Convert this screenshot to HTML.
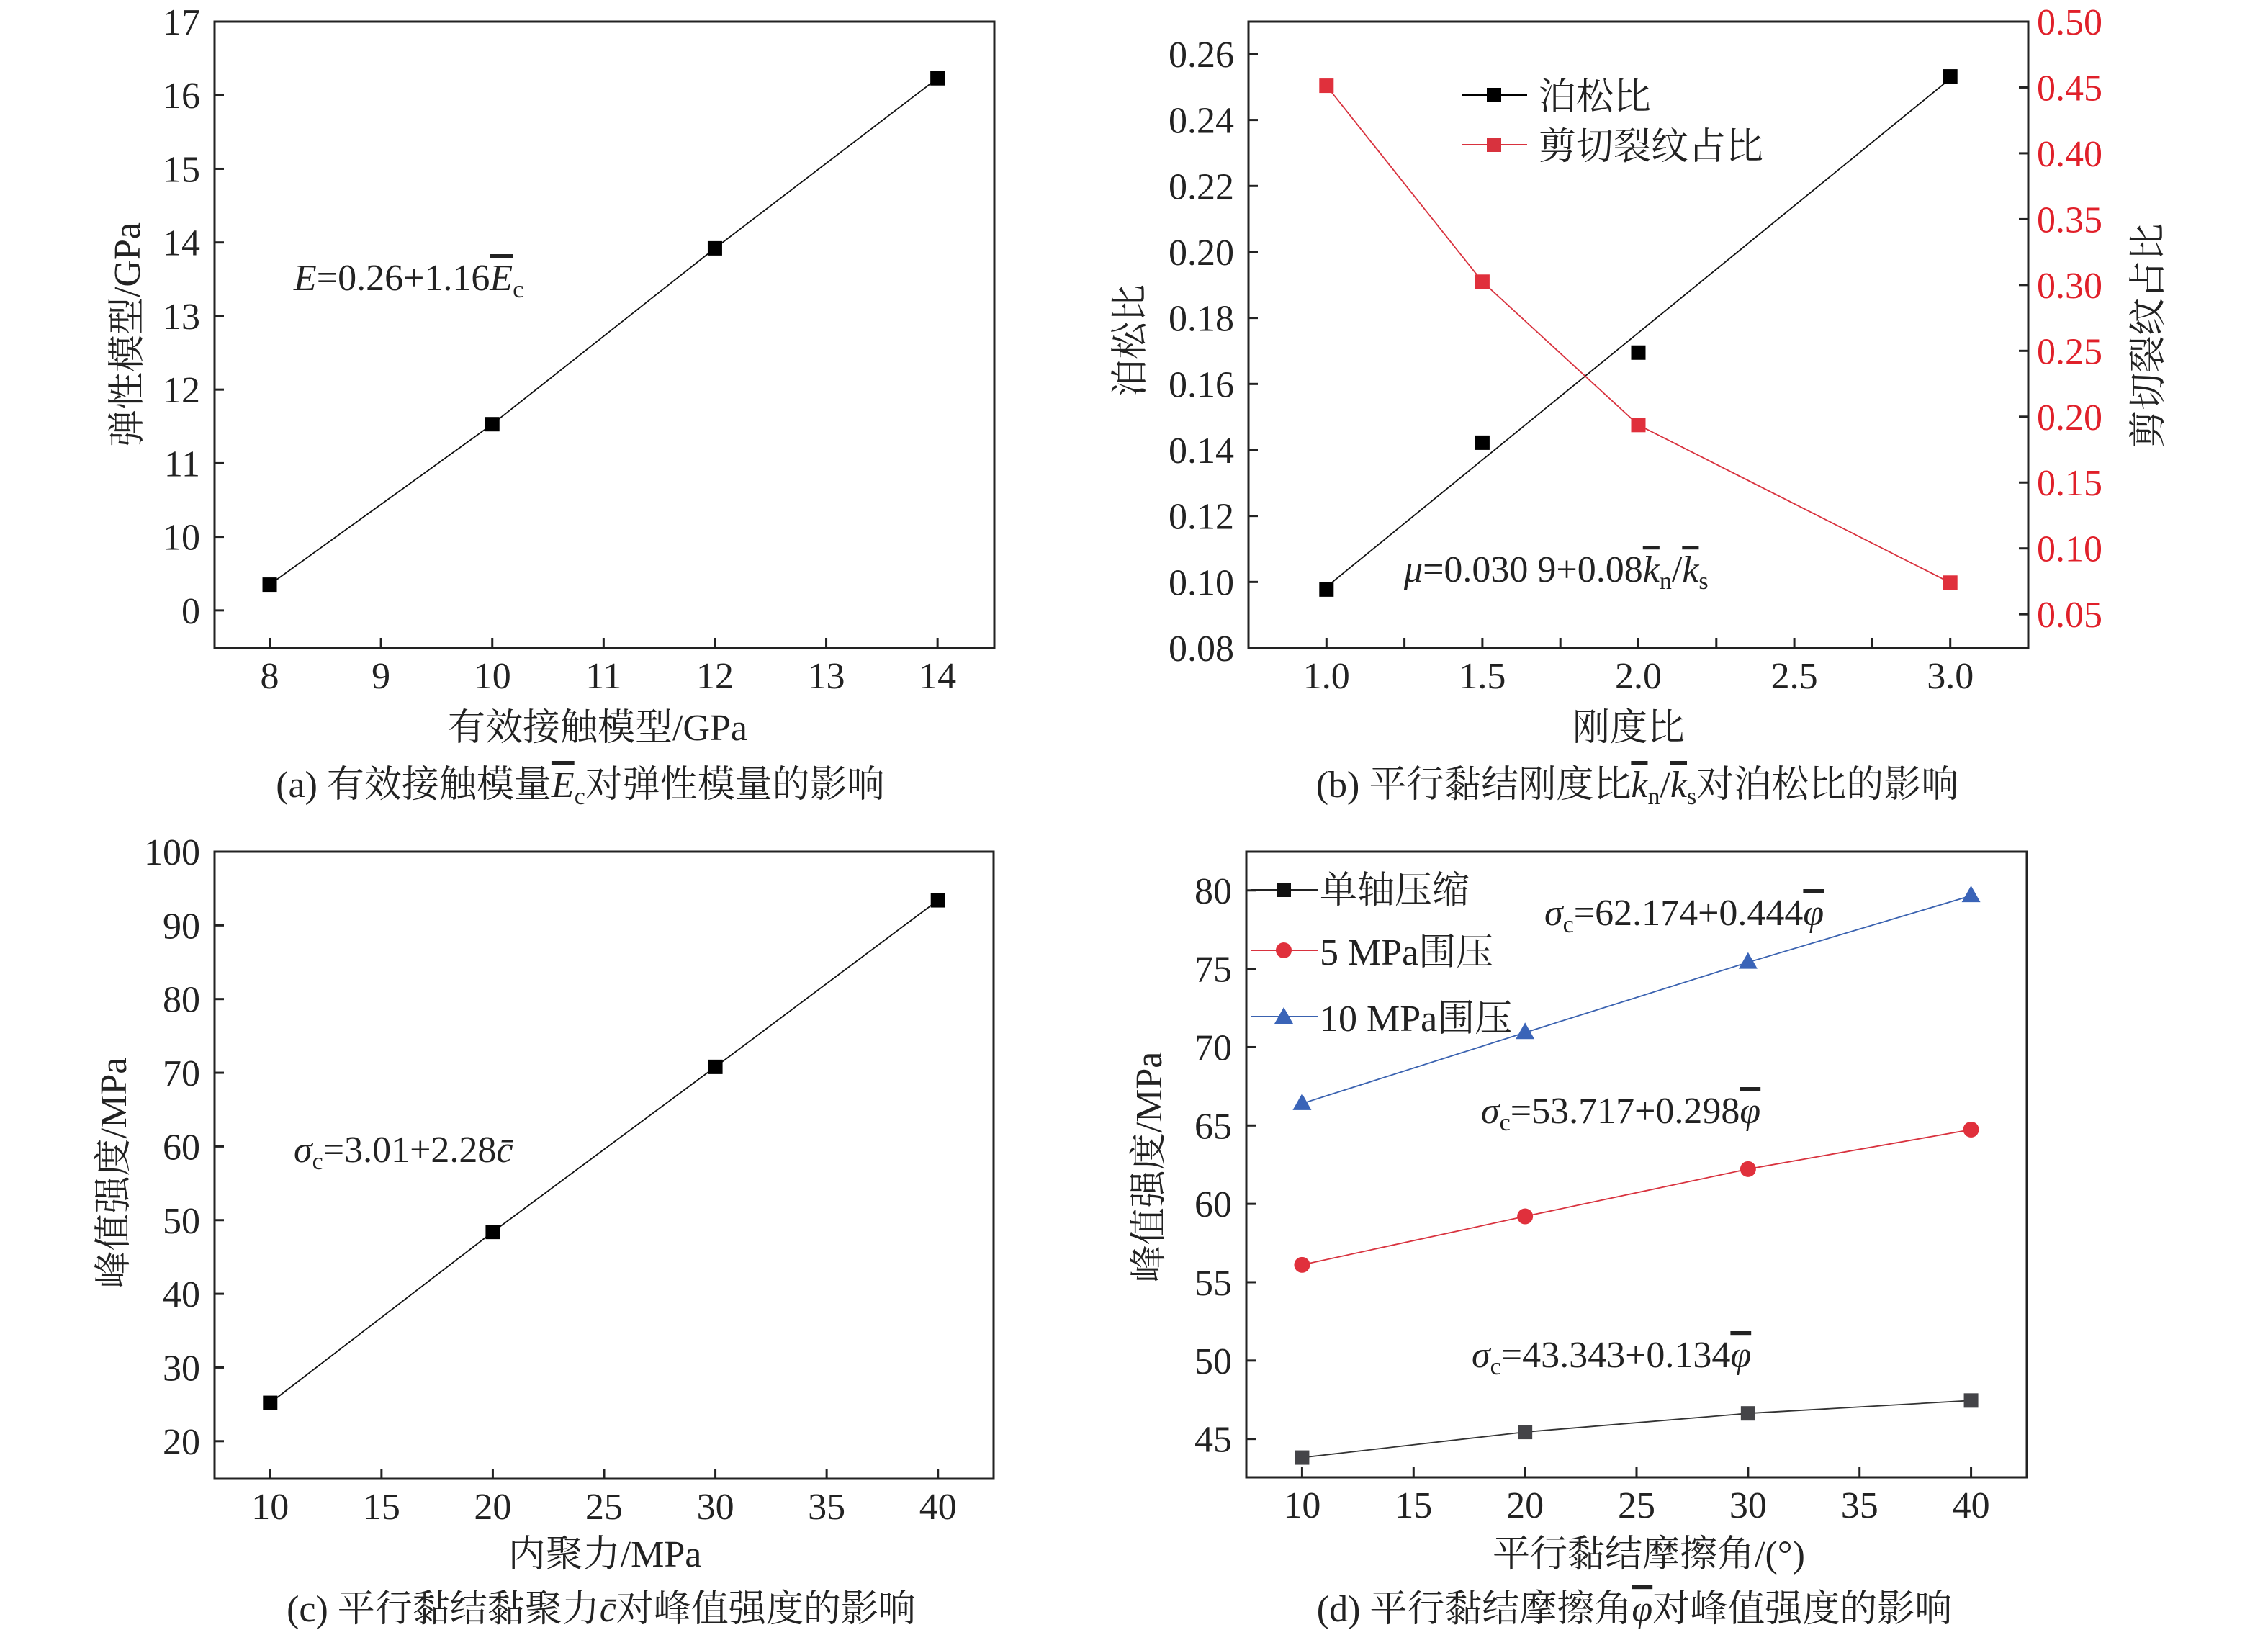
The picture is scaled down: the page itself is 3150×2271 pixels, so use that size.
<!DOCTYPE html>
<html><head><meta charset="utf-8">
<style>
html,body{margin:0;padding:0;background:#fff;}
svg{display:block;}
text{font-family:"Liberation Serif","Noto Serif CJK SC",serif;fill:#222;}
.ob{text-decoration:overline;font-style:italic;}
</style></head>
<body>
<svg id="fig" width="3150" height="2271" viewBox="0 0 3150 2271" xmlns="http://www.w3.org/2000/svg">
<rect x="0" y="0" width="3150" height="2271" fill="#fff"/>
<g id="layer"></g>

<text x="182" y="465" font-size="52" text-anchor="middle" transform="rotate(-90 182 465)" dominant-baseline="middle">弹性模型/GPa</text>
<text x="830" y="1028" font-size="52" text-anchor="middle">有效接触模型/GPa</text>
<text x="806" y="1107" font-size="52" text-anchor="middle">(a) 有效接触模量<tspan class="ob">E</tspan><tspan font-size="34" dy="10">c</tspan><tspan dy="-10">对弹性模量的影响</tspan></text>
<text x="408" y="403" font-size="52"><tspan font-style="italic">E</tspan>=0.26+1.16<tspan class="ob">E</tspan><tspan font-size="34" dy="10">c</tspan></text>

<text x="1575" y="473" font-size="52" text-anchor="middle" transform="rotate(-90 1575 473)" dominant-baseline="middle">泊松比</text>
<text x="2989" y="466" font-size="52" text-anchor="middle" transform="rotate(-90 2989 466)" dominant-baseline="middle">剪切裂纹占比</text>
<text x="2262" y="1028" font-size="52" text-anchor="middle">刚度比</text>
<text x="2274" y="1107" font-size="52" text-anchor="middle">(b) 平行黏结刚度比<tspan class="ob">k</tspan><tspan font-size="34" dy="10">n</tspan><tspan dy="-10">/</tspan><tspan class="ob">k</tspan><tspan font-size="34" dy="10">s</tspan><tspan dy="-10">对泊松比的影响</tspan></text>
<text x="1950" y="808" font-size="52"><tspan font-style="italic">μ</tspan>=0.030 9+0.08<tspan class="ob">k</tspan><tspan font-size="34" dy="10">n</tspan><tspan dy="-10">/</tspan><tspan class="ob">k</tspan><tspan font-size="34" dy="10">s</tspan></text>
<g>
<line x1="2030" y1="132" x2="2121" y2="132" stroke="#000" stroke-width="2"/>
<rect x="2065" y="122" width="20" height="20" fill="#000"/>
<text x="2137" y="152" font-size="52">泊松比</text>
<line x1="2030" y1="201" x2="2121" y2="201" stroke="#d8323e" stroke-width="2"/>
<rect x="2065" y="191" width="20" height="20" fill="#d8323e"/>
<text x="2137" y="221" font-size="52">剪切裂纹占比</text>
</g>

<text x="163" y="1629" font-size="52" text-anchor="middle" transform="rotate(-90 163 1629)" dominant-baseline="middle">峰值强度/MPa</text>
<text x="840" y="2176" font-size="52" text-anchor="middle">内聚力/MPa</text>
<text x="835" y="2252" font-size="52" text-anchor="middle">(c) 平行黏结黏聚力<tspan font-style="italic">c̄</tspan>对峰值强度的影响</text>
<text x="408" y="1614" font-size="52"><tspan font-style="italic">σ</tspan><tspan font-size="34" dy="10">c</tspan><tspan dy="-10">=3.01+2.28</tspan><tspan font-style="italic">c̄</tspan></text>

<text x="1601" y="1621" font-size="52" text-anchor="middle" transform="rotate(-90 1601 1621)" dominant-baseline="middle">峰值强度/MPa</text>
<text x="2290" y="2176" font-size="52" text-anchor="middle">平行黏结摩擦角/(°)</text>
<text x="2270" y="2252" font-size="52" text-anchor="middle">(d) 平行黏结摩擦角<tspan class="ob">φ</tspan>对峰值强度的影响</text>
<text x="2145" y="1285" font-size="52"><tspan font-style="italic">σ</tspan><tspan font-size="34" dy="10">c</tspan><tspan dy="-10">=62.174+0.444</tspan><tspan class="ob">φ</tspan></text>
<text x="2057" y="1560" font-size="52"><tspan font-style="italic">σ</tspan><tspan font-size="34" dy="10">c</tspan><tspan dy="-10">=53.717+0.298</tspan><tspan class="ob">φ</tspan></text>
<text x="2044" y="1899" font-size="52"><tspan font-style="italic">σ</tspan><tspan font-size="34" dy="10">c</tspan><tspan dy="-10">=43.343+0.134</tspan><tspan class="ob">φ</tspan></text>
<g>
<line x1="1738" y1="1236" x2="1830" y2="1236" stroke="#222" stroke-width="2"/>
<rect x="1773" y="1226" width="20" height="20" fill="#111"/>
<text x="1833" y="1254" font-size="52">单轴压缩</text>
<line x1="1738" y1="1320" x2="1830" y2="1320" stroke="#d8323e" stroke-width="2"/>
<circle cx="1783" cy="1320" r="11" fill="#e0303c"/>
<text x="1833" y="1340" font-size="52">5 MPa围压</text>
<line x1="1738" y1="1412" x2="1830" y2="1412" stroke="#3a62b0" stroke-width="2"/>
<polygon points="1783,1399 1796,1422 1770,1422" fill="#3a64b8"/>
<text x="1833" y="1432" font-size="52">10 MPa围压</text>
</g>
</svg>

<script>
const aX = [8, 10, 12, 14];
const aY = [9.35, 11.53, 13.92, 16.23];
const aXTicks = [8, 9, 10, 11, 12, 13, 14];
const aXTickLabels = ["8", "9", "10", "11", "12", "13", "14"];
const aYTicks = [9, 10, 11, 12, 13, 14, 15, 16, 17];
const aYTickLabels = ["0", "10", "11", "12", "13", "14", "15", "16", "17"];

const bX = [1.0, 1.5, 2.0, 3.0];
const bPoisson = [0.0977, 0.1422, 0.1695, 0.2532];
const bPoissonFit = [0.0985, 0.2525];
const bShear = [0.4513, 0.3025, 0.1937, 0.074];
const bXTicks = [1.0, 1.25, 1.5, 1.75, 2.0, 2.25, 2.5, 2.75, 3.0];
const bXTickLabels = ["1.0", "", "1.5", "", "2.0", "", "2.5", "", "3.0"];
const bYLTicks = [0.08, 0.10, 0.12, 0.14, 0.16, 0.18, 0.20, 0.22, 0.24, 0.26];
const bYLTickLabels = ["0.08", "0.10", "0.12", "0.14", "0.16", "0.18", "0.20", "0.22", "0.24", "0.26"];
const bYRTicks = [0.05, 0.10, 0.15, 0.20, 0.25, 0.30, 0.35, 0.40, 0.45, 0.50];
const bYRTickLabels = ["0.05", "0.10", "0.15", "0.20", "0.25", "0.30", "0.35", "0.40", "0.45", "0.50"];

const cX = [10, 20, 30, 40];
const cY = [25.2, 48.4, 70.8, 93.4];
const cXTicks = [10, 15, 20, 25, 30, 35, 40];
const cXTickLabels = ["10", "15", "20", "25", "30", "35", "40"];
const cYTicks = [20, 30, 40, 50, 60, 70, 80, 90, 100];
const cYTickLabels = ["20", "30", "40", "50", "60", "70", "80", "90", "100"];

const dX = [10, 20, 30, 40];
const dUniaxial = [43.81, 45.44, 46.63, 47.45];
const d5MPa = [56.11, 59.2, 62.22, 64.74];
const d10MPa = [66.4, 70.93, 75.41, 79.66];
const dXTicks = [10, 15, 20, 25, 30, 35, 40];
const dXTickLabels = ["10", "15", "20", "25", "30", "35", "40"];
const dYTicks = [45, 50, 55, 60, 65, 70, 75, 80];
const dYTickLabels = ["45", "50", "55", "60", "65", "70", "75", "80"];

const NS = 'http://www.w3.org/2000/svg';
const layer = document.getElementById('layer');
function mk(tag, attrs) {
  const e = document.createElementNS(NS, tag);
  for (const k in attrs) e.setAttribute(k, attrs[k]);
  layer.appendChild(e);
  return e;
}
function scale(d0, d1, r0, r1) { return v => r0 + (v - d0) / (d1 - d0) * (r1 - r0); }

function frame(p, name) {
  const el = mk('rect', {x: p.l, y: p.t, width: p.r - p.l, height: p.b - p.t, fill: 'none', stroke: '#222', 'stroke-width': 3});
  
  
}
function xAxis(p, sx, ticks, labels, name) {
  ticks.forEach((t, i) => {
    const x = sx(t);
    const tk = mk('line', {x1: x, x2: x, y1: p.b, y2: p.b - 14, stroke: '#222', 'stroke-width': 3});
    
    
    if (labels[i]) {
      const tx = mk('text', {x: x, y: p.b + 56, 'font-size': 52, 'text-anchor': 'middle'});
      tx.textContent = labels[i];
      
      
    }
  });
}
function yAxis(p, sy, ticks, labels, name, right, color) {
  ticks.forEach((t, i) => {
    const y = sy(t);
    const x0 = right ? p.r : p.l;
    const tk = mk('line', {x1: x0, x2: right ? x0 - 13 : x0 + 13, y1: y, y2: y, stroke: '#222', 'stroke-width': 3});
    
    
    const tx = mk('text', {x: right ? p.r + 12 : p.l - 20, y: y + 18, 'font-size': 52, 'text-anchor': right ? 'start' : 'end'});
    if (color) tx.setAttribute('style', 'fill:' + color);
    tx.textContent = labels[i];
    
    
  });
}
function line(xs, ys, sx, sy, color, name) {
  const pts = xs.map((v, i) => sx(v) + ',' + sy(ys[i])).join(' ');
  const el = mk('polyline', {points: pts, fill: 'none', stroke: color, 'stroke-width': 1.8});
  
  
}
function squares(xs, ys, sx, sy, color, name) {
  xs.forEach((v, i) => {
    const el = mk('rect', {x: sx(v) - 10, y: sy(ys[i]) - 10, width: 20, height: 20, fill: color});
    
    
  });
}
function circles(xs, ys, sx, sy, color, name) {
  xs.forEach((v, i) => {
    const el = mk('circle', {cx: sx(v), cy: sy(ys[i]), r: 11, fill: color});
    
    
  });
}
function triangles(xs, ys, sx, sy, color, name) {
  xs.forEach((v, i) => {
    const x = sx(v), y = sy(ys[i]);
    const el = mk('polygon', {points: `${x},${y - 14} ${x + 13},${y + 9} ${x - 13},${y + 9}`, fill: color});
    
    
  });
}

{
  const p = {l: 298, r: 1381, t: 30, b: 900};
  const sx = scale(7.505, 14.51, p.l, p.r), sy = scale(8.49, 17, p.b, p.t);
  frame(p, 'a');
  xAxis(p, sx, aXTicks, aXTickLabels, 'a');
  yAxis(p, sy, aYTicks, aYTickLabels, 'a', false);
  line(aX, aY, sx, sy, '#111', 'a-fit-line');
  squares(aX, aY, sx, sy, '#000', 'a-point');
}
{
  const p = {l: 1734, r: 2817, t: 30, b: 900};
  const sx = scale(0.75, 3.25, p.l, p.r);
  const syL = scale(0.08, 0.2698, p.b, p.t);
  const syR = scale(0.0244, 0.5, p.b, p.t);
  frame(p, 'b');
  xAxis(p, sx, bXTicks, bXTickLabels, 'b');
  yAxis(p, syL, bYLTicks, bYLTickLabels, 'b-left', false);
  yAxis(p, syR, bYRTicks, bYRTickLabels, 'b-right', true, '#e0202a');
  line([bX[0], bX[bX.length - 1]], bPoissonFit, sx, syL, '#111', 'b-poisson-fit-line');
  squares(bX, bPoisson, sx, syL, '#000', 'b-poisson-point');
  line(bX, bShear, sx, syR, '#d8323e', 'b-shear-line');
  squares(bX, bShear, sx, syR, '#e0303c', 'b-shear-point');
}
{
  const p = {l: 298, r: 1380, t: 1183, b: 2054};
  const sx = scale(7.5, 42.5, p.l, p.r), sy = scale(14.9, 100, p.b, p.t);
  frame(p, 'c');
  xAxis(p, sx, cXTicks, cXTickLabels, 'c');
  yAxis(p, sy, cYTicks, cYTickLabels, 'c', false);
  line(cX, cY, sx, sy, '#111', 'c-fit-line');
  squares(cX, cY, sx, sy, '#000', 'c-point');
}
{
  const p = {l: 1731, r: 2815, t: 1183, b: 2052};
  const sx = scale(7.5, 42.5, p.l, p.r), sy = scale(42.55, 82.47, p.b, p.t);
  frame(p, 'd');
  xAxis(p, sx, dXTicks, dXTickLabels, 'd');
  yAxis(p, sy, dYTicks, dYTickLabels, 'd', false);
  line(dX, dUniaxial, sx, sy, '#333', 'd-uniaxial-line');
  squares(dX, dUniaxial, sx, sy, '#444448', 'd-uniaxial-point');
  line(dX, d5MPa, sx, sy, '#d8323e', 'd-5mpa-line');
  circles(dX, d5MPa, sx, sy, '#e0303c', 'd-5mpa-point');
  line(dX, d10MPa, sx, sy, '#3a62b0', 'd-10mpa-line');
  triangles(dX, d10MPa, sx, sy, '#3a64b8', 'd-10mpa-point');
}
</script>
</body></html>
